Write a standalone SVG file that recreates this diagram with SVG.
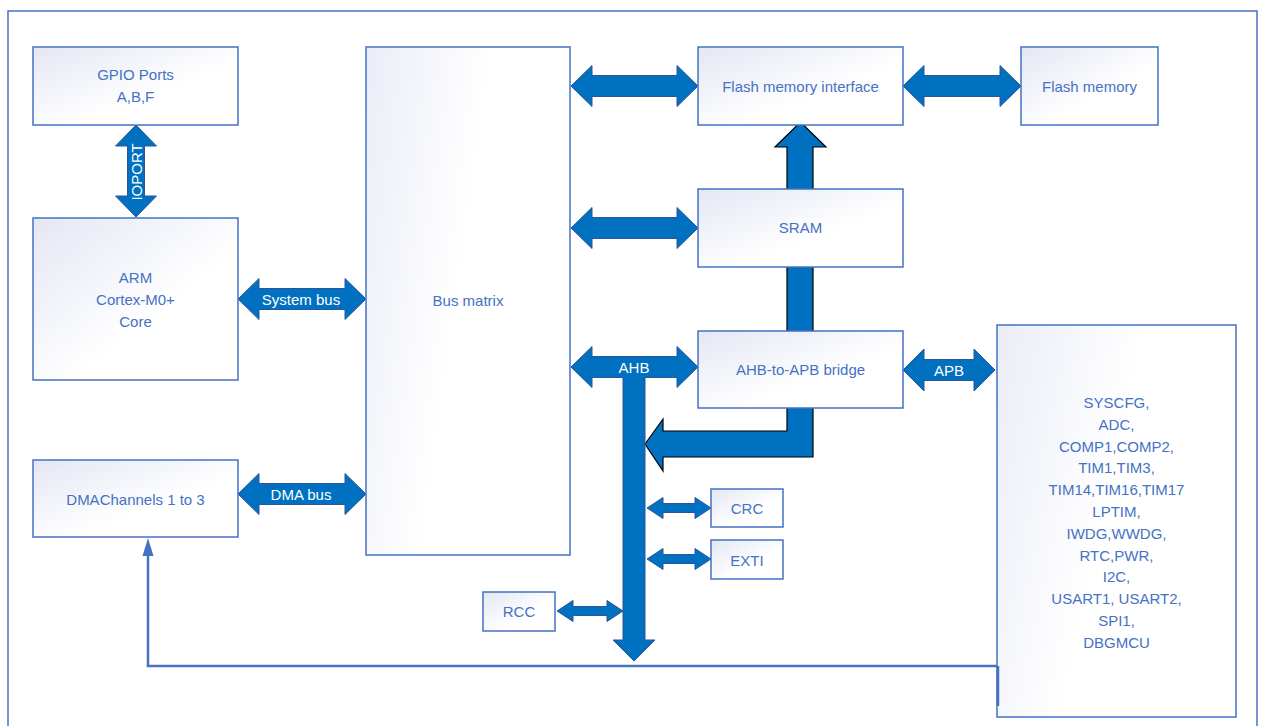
<svg xmlns="http://www.w3.org/2000/svg" width="1261" height="726" viewBox="0 0 1261 726">
<defs>
<linearGradient id="boxg" x1="0" y1="0" x2="1" y2="1">
<stop offset="0" stop-color="#E4E7F4"/>
<stop offset="0.6" stop-color="#FFFFFF"/>
</linearGradient>
<linearGradient id="bigg" x1="0" y1="0" x2="1" y2="0.35">
<stop offset="0" stop-color="#EBEDF7"/>
<stop offset="0.55" stop-color="#FFFFFF"/>
</linearGradient>
</defs>
<style>
.box{fill:url(#boxg);stroke:#4472C4;stroke-width:1.5}
.big{fill:url(#bigg);stroke:#4472C4;stroke-width:1.5}
.t{font-family:"Liberation Sans",Arial,sans-serif;font-size:15px;fill:#4472C4;text-anchor:middle}
.w{font-family:"Liberation Sans",Arial,sans-serif;font-size:15px;fill:#FFFFFF;text-anchor:middle}
.ar{fill:#0070C0;stroke:#2F5597;stroke-width:1}
.arb{fill:#0070C0;stroke:#000000;stroke-width:1.2}
.ln{fill:none;stroke:#4472C4;stroke-width:2.5}
</style>
<rect x="0" y="0" width="1261" height="726" fill="#FFFFFF"/>
<rect x="8" y="11" width="1249" height="740" fill="none" stroke="#4472C4" stroke-width="1.5"/>

<g id="connectors">
<polygon class="arb" points="645,444 663,419 663,431 787,431 787,147 775,147 800.5,122 826,147 813,147 813,457 663,457 663,471"/>
<polygon class="ar" points="136,125 156.5,146 144.5,146 144.5,196 156.5,196 136,217 115.5,196 127.5,196 127.5,146 115.5,146"/>
<text class="w" transform="translate(142,172) rotate(-90)">IOPORT</text>
<polygon class="ar" points="238,299 259,278.5 259,288.5 345,288.5 345,278.5 366,299 345,319.5 345,309.5 259,309.5 259,319.5"/>
<text class="w" x="301" y="305">System bus</text>
<polygon class="ar" points="238,494 259,473.5 259,483.5 345,483.5 345,473.5 366,494 345,514.5 345,504.5 259,504.5 259,514.5"/>
<text class="w" x="301" y="500">DMA bus</text>
<polygon class="ar" points="571,86 592,65.5 592,75.5 677,75.5 677,65.5 698,86 677,106.5 677,96.5 592,96.5 592,106.5"/>
<polygon class="ar" points="571,228 592,207.5 592,217.5 677,217.5 677,207.5 698,228 677,248.5 677,238.5 592,238.5 592,248.5"/>
<polygon class="ar" points="903,86 924,65.5 924,75.5 1000,75.5 1000,65.5 1021,86 1000,106.5 1000,96.5 924,96.5 924,106.5"/>
<polygon class="ar" points="571,367 592,346.5 592,356.5 677,356.5 677,346.5 698,367 677,387.5 677,377.5 645,377.5 645,640 655,640 634,661 613,640 623,640 623,377.5 592,377.5 592,387.5"/>
<text class="w" x="634" y="373">AHB</text>
<polygon class="ar" points="903,370 924,349 924,359.5 974,359.5 974,349 995,370 974,391 974,380.5 924,380.5 924,391"/>
<text class="w" x="949" y="376">APB</text>
<polygon class="ar" points="647,508 663,497.5 663,503.5 695,503.5 695,497.5 711,508 695,518.5 695,512.5 663,512.5 663,518.5"/>
<polygon class="ar" points="647,559 663,548.5 663,554.5 695,554.5 695,548.5 711,559 695,569.5 695,563.5 663,563.5 663,569.5"/>
<polygon class="ar" points="557,611 573,600.5 573,606.5 607,606.5 607,600.5 623,611 607,621.5 607,615.5 573,615.5 573,621.5"/>
<polyline class="ln" points="998,706 998,666 148,666 148,554"/>
<polygon points="148,538 142.5,556 153.5,556" fill="#4472C4"/>
</g>

<g id="gpio"><rect class="box" x="33" y="47" width="205" height="78"/>
<text class="t" x="135.5" y="80">GPIO Ports</text><text class="t" x="135.5" y="102">A,B,F</text></g>
<g id="arm"><rect class="box" x="33" y="218" width="205" height="162"/>
<text class="t" x="135.5" y="283">ARM</text><text class="t" x="135.5" y="305">Cortex-M0+</text><text class="t" x="135.5" y="327">Core</text></g>
<g id="dma"><rect class="box" x="33" y="460" width="205" height="77"/>
<text class="t" x="135.5" y="505">DMAChannels 1 to 3</text></g>
<g id="busmatrix"><rect class="big" x="366" y="47" width="204" height="508"/>
<text class="t" x="468" y="306">Bus matrix</text></g>
<g id="fmi"><rect class="box" x="698" y="47" width="205" height="78"/>
<text class="t" x="800.5" y="92">Flash memory interface</text></g>
<g id="flash"><rect class="box" x="1021" y="47" width="137" height="78"/>
<text class="t" x="1089.5" y="92">Flash memory</text></g>
<g id="sram"><rect class="box" x="698" y="189" width="205" height="78"/>
<text class="t" x="800.5" y="233">SRAM</text></g>
<g id="bridge"><rect class="box" x="698" y="331" width="205" height="77"/>
<text class="t" x="800.5" y="375">AHB-to-APB bridge</text></g>
<g id="crc"><rect class="box" x="711" y="489" width="72" height="38"/>
<text class="t" x="747" y="514">CRC</text></g>
<g id="exti"><rect class="box" x="711" y="540" width="72" height="39"/>
<text class="t" x="747" y="566">EXTI</text></g>
<g id="rcc"><rect class="box" x="483" y="592" width="72" height="39"/>
<text class="t" x="519" y="617">RCC</text></g>
<g id="apbperiph"><rect class="big" x="997" y="325" width="239" height="392"/>
<text class="t" x="1116.5" y="408">SYSCFG,</text>
<text class="t" x="1116.5" y="429.8">ADC,</text>
<text class="t" x="1116.5" y="451.6">COMP1,COMP2,</text>
<text class="t" x="1116.5" y="473.4">TIM1,TIM3,</text>
<text class="t" x="1116.5" y="495.2">TIM14,TIM16,TIM17</text>
<text class="t" x="1116.5" y="517">LPTIM,</text>
<text class="t" x="1116.5" y="538.8">IWDG,WWDG,</text>
<text class="t" x="1116.5" y="560.6">RTC,PWR,</text>
<text class="t" x="1116.5" y="582.4">I2C,</text>
<text class="t" x="1116.5" y="604.2">USART1, USART2,</text>
<text class="t" x="1116.5" y="626">SPI1,</text>
<text class="t" x="1116.5" y="647.8">DBGMCU</text></g>
<line x1="998" y1="666" x2="998" y2="706" stroke="#4472C4" stroke-width="2.5"/>
</svg>
